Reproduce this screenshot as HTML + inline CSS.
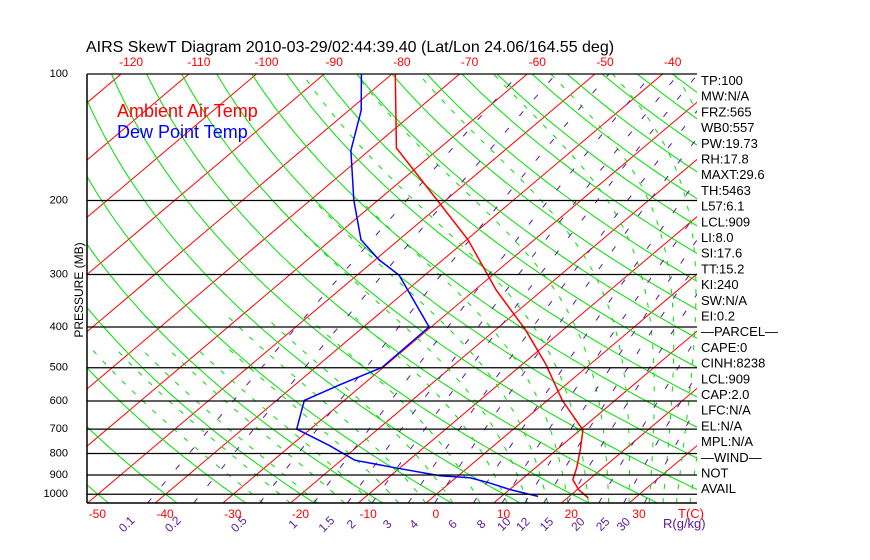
<!DOCTYPE html>
<html><head><meta charset="utf-8">
<style>
html,body{margin:0;padding:0;background:#fff;}
svg{display:block;font-family:"Liberation Sans",sans-serif;}
</style></head>
<body>
<svg id="chart" width="870" height="560" viewBox="0 0 870 560" xmlns="http://www.w3.org/2000/svg">
<defs><clipPath id="plotclip"><rect x="87" y="74" width="610" height="429"/></clipPath></defs>
<rect x="0" y="0" width="870" height="560" fill="#fff"/>
<text x="86" y="52" font-size="16" fill="#000">AIRS SkewT Diagram 2010-03-29/02:44:39.40 (Lat/Lon 24.06/164.55 deg)</text>
<g id="grid" clip-path="url(#plotclip)"></g>
<g id="axes"></g>
<text x="117" y="117" font-size="18" fill="#ff0000">Ambient Air Temp</text>
<text x="117" y="138" font-size="18" fill="#0000ff">Dew Point Temp</text>
<text transform="translate(83,290) rotate(-90)" text-anchor="middle" font-size="12" fill="#000">PRESSURE (MB)</text>
<text x="678" y="518" font-size="13" fill="#ff0000">T(C)</text>
<text x="663" y="528" font-size="13" fill="#5a1a9a">R(g/kg)</text>
<g id="stats"></g>
</svg>
<script>
// ---- data ----
const pressureTicks = [100,200,300,400,500,600,700,800,900,1000];
const bottomTempTicks = [-50,-40,-30,-20,-10,0,10,20,30];
const topTempTicks = [-120,-110,-100,-90,-80,-70,-60,-50,-40];
const mixingRatios = [0.1,0.2,0.5,1,1.5,2,3,4,6,8,10,12,15,20,25,30];
const mixingLabels = ["0.1","0.2","0.5","1","1.5","2","3","4","6","8","10","12","15","20","25","30"];
const tempPressure = [100,150,199.5,248,327,406,491,598,703,784,865,923,975,1021];
const tempValues = [-79.5,-66.4,-51.3,-39.8,-26.8,-15.6,-6.5,2.2,10.4,13.5,16.1,17.6,20.2,23.1];
const dewPressure = [100,122,152,199.5,248,277,301,400,499,549,598,700,765,830,865,904,914,939,975,1012];
const dewValues = [-84.5,-78.2,-72.7,-63.6,-55.6,-49.4,-43.8,-30.3,-30.2,-33.4,-35.9,-32,-24.4,-18,-10.7,-2.7,2.1,5.7,10.1,15.4];
const statLabels = ["TP:100","MW:N/A","FRZ:565","WB0:557","PW:19.73","RH:17.8","MAXT:29.6","TH:5463","L57:6.1","LCL:909","LI:8.0","SI:17.6","TT:15.2","KI:240","SW:N/A","EI:0.2","\u2014PARCEL\u2014","CAPE:0","CINH:8238","LCL:909","CAP:2.0","LFC:N/A","EL:N/A","MPL:N/A","\u2014WIND\u2014"," NOT","AVAIL"];

// ---- axis functions ----
const NS="http://www.w3.org/2000/svg";
const X0=87, X1=697, YT=74, YB=503, K=182.5, T0X=426, DX=6.77, SKEW=1.183;
function Y(p){return YT+K*Math.log(p/100);}
function X(T,p){return T0X+DX*T+(YB-Y(p))*SKEW;}
function mk(tag,attrs,parent){const e=document.createElementNS(NS,tag);for(const k in attrs)e.setAttribute(k,attrs[k]);parent.appendChild(e);return e;}
const grid=document.getElementById('grid'), axes=document.getElementById('axes'), stats=document.getElementById('stats');
function pathFrom(pts){return pts.map((q,i)=>(i?'L':'M')+q[0].toFixed(1)+','+q[1].toFixed(1)).join('');}

// isotherms
for(let T=-160;T<=60;T+=10){
  const el=mk('line',{x1:X(T,1050),y1:Y(1050),x2:X(T,100),y2:Y(100),stroke:'#ff0000','stroke-width':1},grid);
  
  
}
// dry adiabats
for(let th=-60;th<=260;th+=10){
  const pts=[];
  for(let p=1050;p>=100;p-=10){const T=(th+273.15)*Math.pow(p/1000,0.286)-273.15;pts.push([X(T,p),Y(p)]);}
  const el=mk('path',{d:pathFrom(pts),fill:'none',stroke:'#00e000','stroke-width':1},grid);
  
  
}
// moist adiabats
const moistStarts=[-24,-20,-16,-12,-8,-4,0,4,8,12,15,18,21,24,27,30,33,35,37,39];
moistStarts.forEach(t0=>{
  let T=t0+273.15; const pts=[];
  const ptop = t0<0 ? 450 : (t0<15 ? 380 : (t0<22 ? 200 : 100));
  for(let p=1050;p>=ptop;p-=5){
    pts.push([X(T-273.15,p),Y(p)]);
    const es=6.112*Math.exp(17.67*(T-273.15)/(T-29.65));
    const rs=0.622*es/(p-es);
    const num=(287*T+2.5e6*rs)/p;
    const den=1004+2.5e6*2.5e6*rs*0.622/(287*T*T);
    T-=5*num/den;
  }
  const el=mk('path',{d:pathFrom(pts),fill:'none',stroke:'#00e000','stroke-width':1,'stroke-dasharray':'5 9'},grid);
  
  
});
// mixing ratio lines
function tdFromW(w,p){const e=w*p/(622+w);const l=Math.log(e/6.112);return 243.5*l/(17.67-l);}
mixingRatios.forEach((w,i)=>{
  const pts=[];
  for(let p=1050;p>=100;p-=25){pts.push([X(tdFromW(w,p),p),Y(p)]);}
  const el=mk('path',{d:pathFrom(pts),fill:'none',stroke:'#5a1a9a','stroke-width':1,'stroke-dasharray':'6 16'},grid);
  
  
  const x=X(tdFromW(w,1050),1050)-18;
  const t=mk('text',{transform:`translate(${x.toFixed(1)},527) rotate(-45)`,'text-anchor':'middle','font-size':12,fill:'#5a1a9a'},axes);
  t.textContent=mixingLabels[i];
  
  
});
// isobars
pressureTicks.forEach(p=>{
  const l=mk('line',{x1:X0,x2:X1,y1:Y(p),y2:Y(p),stroke:'#000','stroke-width':1.3},axes);
  
  
  const t=mk('text',{x:68,y:Y(p)+3,'text-anchor':'end','font-size':11,fill:'#000'},axes);
  t.textContent=p;
  
  
});
const bl=mk('line',{x1:X0,x2:X1,y1:YB,y2:YB,stroke:'#000','stroke-width':1.5},axes);


const ll=mk('line',{x1:X0,x2:X0,y1:YT,y2:YB,stroke:'#000','stroke-width':1.5},axes);


bottomTempTicks.forEach(T=>{
  const t=mk('text',{x:X(T,1050)+10,y:518,'text-anchor':'middle','font-size':12,fill:'#ff0000'},axes);
  t.textContent=T;
  
  
});
topTempTicks.forEach(T=>{
  const t=mk('text',{x:X(T,100)+10,y:66,'text-anchor':'middle','font-size':12,fill:'#ff0000'},axes);
  t.textContent=T;
  
  
});
// profiles
const tp=mk('path',{d:pathFrom(tempPressure.map((p,i)=>[X(tempValues[i],p),Y(p)])),fill:'none',stroke:'#ff0000','stroke-width':1.5},grid);


const dp=mk('path',{d:pathFrom(dewPressure.map((p,i)=>[X(dewValues[i],p),Y(p)])),fill:'none',stroke:'#0000ff','stroke-width':1.5},grid);


// stats
statLabels.forEach((s,i)=>{
  const t=mk('text',{x:701,y:85+i*15.7,'font-size':13,fill:'#000','xml:space':'preserve'},stats);
  t.textContent=s;
  
  
});
</script>
</body></html>
